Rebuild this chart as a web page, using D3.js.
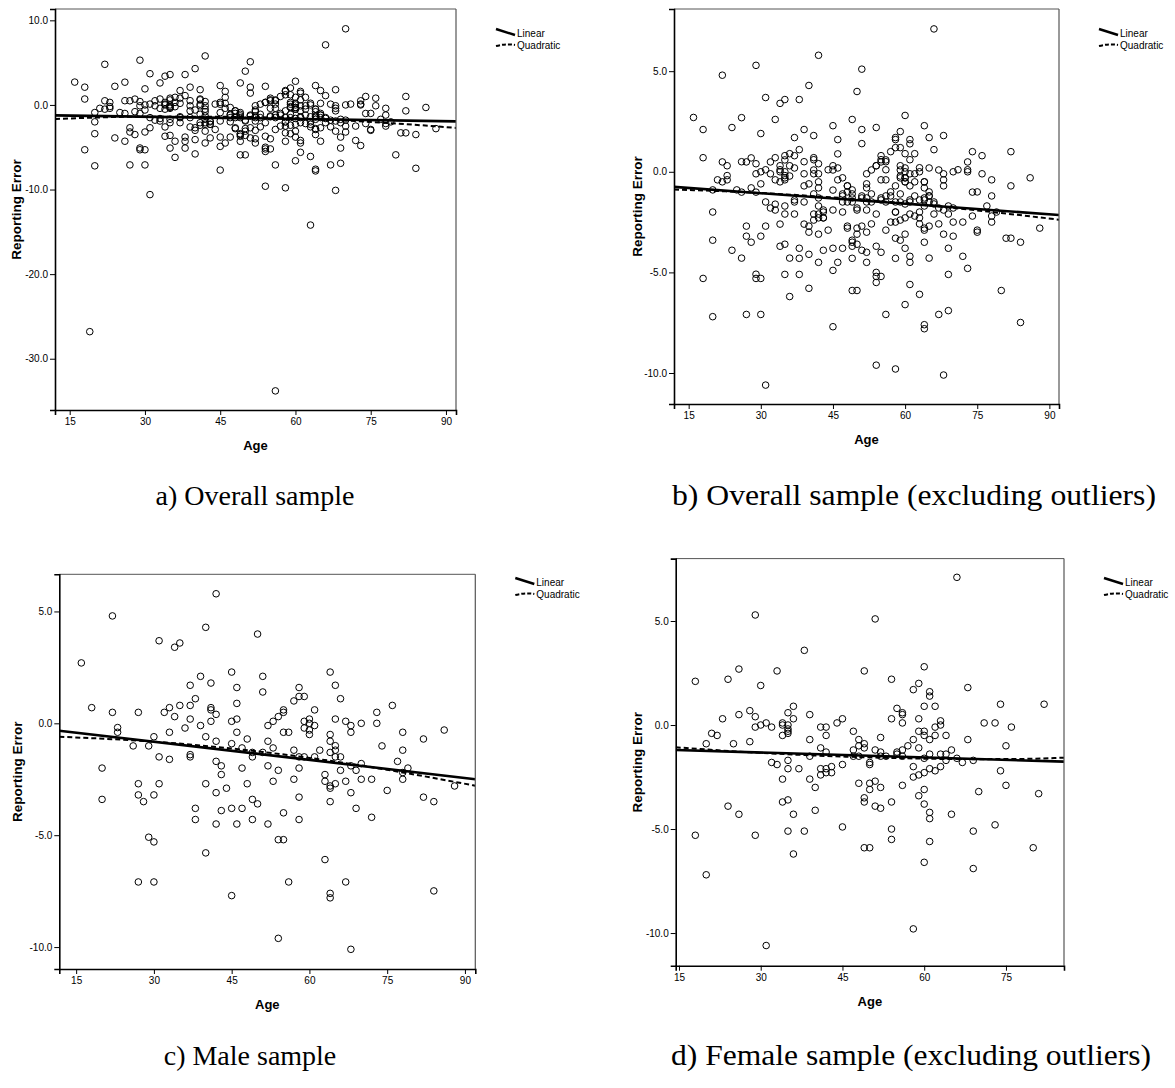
<!DOCTYPE html>
<html>
<head>
<meta charset="utf-8">
<script src="https://cdn.jsdelivr.net/npm/d3@7"></script>
<style>
  html, body { margin: 0; padding: 0; background: #ffffff; }
  svg { display: block; }
  text { font-family: "Liberation Sans", Arial, sans-serif; fill: #000; }
  .cap { font-family: "Liberation Serif", "Times New Roman", serif; }
</style>
</head>
<body>
<svg id="chart" width="1175" height="1088"></svg>
<script>
// ---------------- data ----------------
// Male respondents: age and reporting error
const maleAge = [16,18,20,20,22,22,23,23,26,27,27,27,27,28,29,29,30,30,30,30,31,31,31,32,33,33,33,34,34,35,35,36,37,37,37,37,37,38,38,38,39,39,40,40,40,40,41,41,41,41,42,42,42,42,42,42,43,43,43,44,45,45,45,45,45,46,46,46,46,46,47,47,47,48,48,49,49,49,49,50,50,51,51,51,52,52,52,52,53,53,53,54,54,54,54,55,55,55,55,55,56,56,57,57,57,58,58,58,58,58,58,59,59,59,59,60,60,60,60,61,61,61,62,63,63,63,64,64,64,64,64,64,64,64,64,65,65,65,65,65,65,66,66,66,67,67,67,68,68,68,68,68,69,69,70,70,70,72,72,73,73,74,75,76,77,78,78,78,78,79,82,82,84,84,86,88];
const maleErr = [2.7,0.7,-2.0,-3.4,4.8,0.49,-0.19,-0.4,-1.01,0.49,-2.7,-3.2,-7.09,-3.5,-1.01,-5.09,-0.6,-3.2,-5.3,-7.09,3.69,-1.5,-2.7,0.49,0.7,-0.4,-1.61,3.4,0.3,3.59,0.8,-0.21,1.7,0.8,0.19,-1.4,-1.5,1.1,-3.8,-4.3,2.1,-0.1,4.29,-0.6,-2.7,-5.79,1.8,0.7,0.6,0.09,5.79,0.4,-0.8,-1.7,-3.1,-4.5,-1.9,-2.29,-3.9,-2.9,2.29,0.09,-0.91,-3.8,-7.7,1.6,0.89,0.19,-0.4,-4.5,-1.1,-2.0,-3.8,-0.7,-2.7,-1.3,-1.5,-3.4,-4.3,3.99,-3.6,2.1,1.4,-1.3,-0.1,-0.8,-1.9,-4.5,0.09,-1.1,-2.59,0.3,-2.1,-5.2,-9.61,0.6,0.49,-0.4,-4.0,-5.2,-0.4,-7.09,1.0,-1.2,-2.5,1.6,1.2,-1.5,-2.0,-3.3,-4.3,1.2,0.09,-0.21,-1.5,0.19,0.0,-0.3,-0.5,0.6,-0.1,-1.5,-1.2,-2.29,-2.59,-6.09,2.29,-0.5,-0.8,-1.3,-2.8,-2.9,-3.5,-7.6,-7.8,1.7,0.19,-1.0,-1.2,-1.5,-2.7,1.1,-1.5,-2.1,0.09,-2.59,-7.09,-0.1,-0.4,-1.9,-3.1,-10.1,-2.1,-3.8,0.0,-1.8,-2.5,-2.5,-4.2,0.49,0.0,-1.01,-3.0,0.8,-1.7,-0.4,-1.2,-2.2,-2.5,-2.0,-0.7,-3.3,-3.5,-7.49,-0.3,-2.8];
// Female respondents (outliers excluded): age and reporting error
const femaleAge = [18,18,20,20,21,22,23,24,24,25,26,26,26,28,28,29,29,29,29,30,30,31,31,32,32,33,33,34,34,34,34,34,35,35,35,35,35,35,35,35,35,36,36,36,36,37,38,38,39,39,39,39,40,40,41,41,41,41,42,42,42,42,42,43,43,44,45,45,45,47,47,47,48,48,48,48,49,49,49,49,49,49,50,50,50,50,50,51,51,51,51,52,52,52,52,52,53,54,54,54,54,54,55,55,55,56,56,56,56,56,56,57,58,58,58,58,58,59,59,59,59,59,59,60,60,60,60,60,60,60,60,60,61,61,61,61,61,61,61,61,62,62,62,62,63,63,63,63,64,64,64,65,65,66,66,67,68,68,69,69,69,70,71,73,73,74,74,75,75,76,80,81,82];
const femaleErr = [2.1,-5.3,-0.9,-7.2,-0.4,-0.5,0.3,2.2,-3.9,-0.9,2.69,0.5,-4.29,0.69,-0.8,5.29,0.4,-0.1,-5.3,1.9,0.0,0.1,-10.6,-0.1,-1.8,2.6,-1.9,0.1,0.0,-0.5,-2.6,-3.7,0.59,0.0,-0.19,-0.3,-0.4,-1.7,-2.1,-3.6,-5.1,0.9,0.3,-4.29,-6.2,-2.1,3.59,-5.1,0.5,-0.7,-1.5,-2.6,-3.0,-4.1,-0.1,-1.1,-2.1,-2.4,-0.1,-0.5,-1.3,-2.1,-2.29,-2.0,-2.29,0.1,0.3,-1.9,-4.9,-0.3,-1.2,-1.5,-0.7,-1.0,-1.5,-2.8,2.6,-0.9,-1.1,-3.5,-3.7,-5.9,-1.8,-1.9,-2.8,-3.1,-5.9,5.1,-1.2,-2.7,-3.9,-0.6,-1.3,-1.5,-3.0,-4.0,-1.5,2.2,0.3,-3.7,-5.0,-5.5,0.8,-1.3,-1.4,0.59,0.5,0.1,-1.2,-1.5,-2.9,-1.0,1.7,-0.7,-2.0,-2.5,-9.8,2.0,0.3,-0.3,-1.1,-2.4,-3.4,2.8,0.9,-0.3,-0.5,-1.6,-2.29,-3.1,-3.8,-6.6,1.6,1.39,-0.7,-1.4,-2.1,-4.2,-4.5,-5.6,0.9,-0.1,-0.5,-2.2,0.2,0.0,-1.4,-2.0,-0.5,-1.4,-1.7,-1.2,-4.29,7.1,-1.6,-1.8,1.8,-0.7,-1.7,-5.1,-6.9,-3.2,0.1,0.1,-4.8,1.0,-2.2,-1.0,-2.9,-0.1,-5.9,-3.3,1.0];
// Outliers (female) shown only in the overall sample
const outlierAge = [19,56,63,70];
const outlierErr = [-26.8,-33.8,-14.2,9.0];

// Fitted curves: [age, reporting error]
const linearA = [[12.07,-1.23],[92,-1.94]];
const quadA = [[12.07,-1.66],[30,-1.39],[47,-1.41],[64.4,-1.69],[80,-2.19],[92,-2.72]];
const linearB = [[11.95,-0.75],[92,-2.15]];
const quadB = [[11.95,-0.88],[28,-1.03],[47,-1.31],[66,-1.70],[80,-2.05],[92,-2.38]];
const linearC = [[11.75,-0.33],[92,-2.50]];
const quadC = [[11.75,-0.60],[30,-0.82],[51,-1.28],[72,-1.96],[82,-2.36],[92,-2.79]];
const linearD = [[14.4,-1.20],[85.65,-1.76]];
const quadD = [[14.4,-1.07],[28,-1.31],[49,-1.55],[70,-1.64],[78,-1.63],[85.65,-1.57]];

// Axis ticks
const ageTicks = [15,30,45,60,75,90];
const ageTicksD = [15,30,45,60,75];
const errTicksA = [10,0,-10,-20,-30];
const errTicksB = [5,0,-5,-10];

const legendLabels = ["Linear","Quadratic"];
const captions = ["a) Overall sample","b) Overall sample (excluding outliers)","c) Male sample","d) Female sample (excluding outliers)"];
const xTitle = "Age";
const yTitle = "Reporting Error";

// ---------------- build panels ----------------
const zip = (a, b) => a.map((v, i) => [v, b[i]]);
const male = zip(maleAge, maleErr);
const female = zip(femaleAge, femaleErr);
const outliers = zip(outlierAge, outlierErr);

const panels = [
  { pts: male.concat(female, outliers), lin: linearA, quad: quadA,
    box: [55, 456, 9, 410], xd: [12.07, 92], yd: [-36.06, 11.34],
    xt: ageTicks, yt: errTicksA, yTitleX: 16, legY: 33, cap: captions[0], capX: 255, capY: 497, capW: null, capF: 28 },
  { pts: male.concat(female), lin: linearB, quad: quadB,
    box: [674, 1059, 9, 404], xd: [11.95, 92], yd: [-11.54, 8.09],
    xt: ageTicks, yt: errTicksB, yTitleX: 637, legY: 33, cap: captions[1], capX: 914, capY: 497, capW: 484, capF: 29 },
  { pts: male, lin: linearC, quad: quadC,
    box: [59.3, 475.3, 574.3, 969], xd: [11.75, 92], yd: [-10.98, 6.66],
    xt: ageTicks, yt: errTicksB, yTitleX: 17, legY: 582, cap: captions[2], capX: 250, capY: 1057, capW: null, capF: 28 },
  { pts: female, lin: linearD, quad: quadD,
    box: [675.7, 1064, 558.6, 965.7], xd: [14.4, 85.65], yd: [-11.57, 8.0],
    xt: ageTicksD, yt: errTicksB, yTitleX: 637, legY: 582, cap: captions[3], capX: 911, capY: 1057, capW: 480, capF: 29 }
];

const svg = d3.select("#chart");
svg.append("rect").attr("width", 1175).attr("height", 1088).attr("fill", "#fff");

const fmt = d => d.toFixed(1);

panels.forEach((p, i) => {
  const [x0, x1, y0, y1] = p.box;
  const x = d3.scaleLinear().domain(p.xd).range([x0, x1]);
  const y = d3.scaleLinear().domain(p.yd).range([y1, y0]);
  const g = svg.append("g");

  const clipId = "clip" + i;
  g.append("clipPath").attr("id", clipId)
    .append("rect").attr("x", x0).attr("y", y0).attr("width", x1 - x0).attr("height", y1 - y0);

  // points
  g.append("g").selectAll("circle").data(p.pts).join("circle")
    .attr("cx", d => x(d[0])).attr("cy", d => y(d[1])).attr("r", 3.3)
    .attr("fill", "none").attr("stroke", "#000").attr("stroke-width", 1);

  // fit lines
  const line = d3.line().x(d => x(d[0])).y(d => y(d[1])).curve(d3.curveMonotoneX);
  g.append("path").attr("d", line(p.quad)).attr("clip-path", `url(#${clipId})`)
    .attr("fill", "none").attr("stroke", "#000").attr("stroke-width", 2).attr("stroke-dasharray", "5,3");
  g.append("path").attr("d", line(p.lin)).attr("clip-path", `url(#${clipId})`)
    .attr("fill", "none").attr("stroke", "#000").attr("stroke-width", 2.6);

  // frame
  g.append("line").attr("x1", x0).attr("x2", x1).attr("y1", y0).attr("y2", y0).attr("stroke", "#555").attr("stroke-width", 1);
  g.append("line").attr("x1", x1).attr("x2", x1).attr("y1", y0).attr("y2", y1).attr("stroke", "#555").attr("stroke-width", 1.2);

  // axes
  const ax = g.append("g").attr("transform", `translate(0,${y1})`)
    .call(d3.axisBottom(x).tickValues(p.xt).tickFormat(d3.format("d")).tickSize(5).tickPadding(3));
  const ay = g.append("g").attr("transform", `translate(${x0},0)`)
    .call(d3.axisLeft(y).tickValues(p.yt).tickFormat(fmt).tickSize(5).tickPadding(2));
  [ax, ay].forEach(a => {
    a.select(".domain").attr("stroke", "#000").attr("stroke-width", 1.6);
    a.selectAll(".tick line").attr("stroke", "#000").attr("stroke-width", 1);
    a.selectAll(".tick text").attr("font-size", 10).attr("font-family", "'Liberation Sans', Arial, sans-serif").attr("fill", "#000");
  });

  // axis titles
  g.append("text").attr("x", (x0 + x1) / 2).attr("y", y1 + 40)
    .attr("text-anchor", "middle").attr("font-size", 13).attr("font-weight", "bold").text(xTitle);
  g.append("text").attr("transform", `translate(${p.yTitleX + 5},${(y0 + y1) / 2}) rotate(-90)`)
    .attr("text-anchor", "middle").attr("font-size", 13.5).attr("font-weight", "bold").text(yTitle);

  // legend
  const lx = x1 + 40, ly = p.legY;
  g.append("line").attr("x1", lx).attr("y1", ly - 4).attr("x2", lx + 19).attr("y2", ly + 2)
    .attr("stroke", "#000").attr("stroke-width", 2.4);
  g.append("path").attr("d", `M${lx},${ly + 13} Q${lx + 10},${ly + 10.5} ${lx + 19},${ly + 12}`)
    .attr("fill", "none").attr("stroke", "#000").attr("stroke-width", 2).attr("stroke-dasharray", "4,2");
  g.append("text").attr("x", lx + 21).attr("y", ly + 3.5).attr("font-size", 10).text(legendLabels[0]);
  g.append("text").attr("x", lx + 21).attr("y", ly + 16).attr("font-size", 10).text(legendLabels[1]);

  // caption
  const cap = g.append("text").attr("class", "cap").attr("x", p.capX).attr("y", p.capY + 8)
    .attr("text-anchor", "middle").attr("font-size", p.capF).text(p.cap);
  if (p.capW) cap.attr("textLength", p.capW).attr("lengthAdjust", "spacingAndGlyphs");
});
</script>
</body>
</html>
